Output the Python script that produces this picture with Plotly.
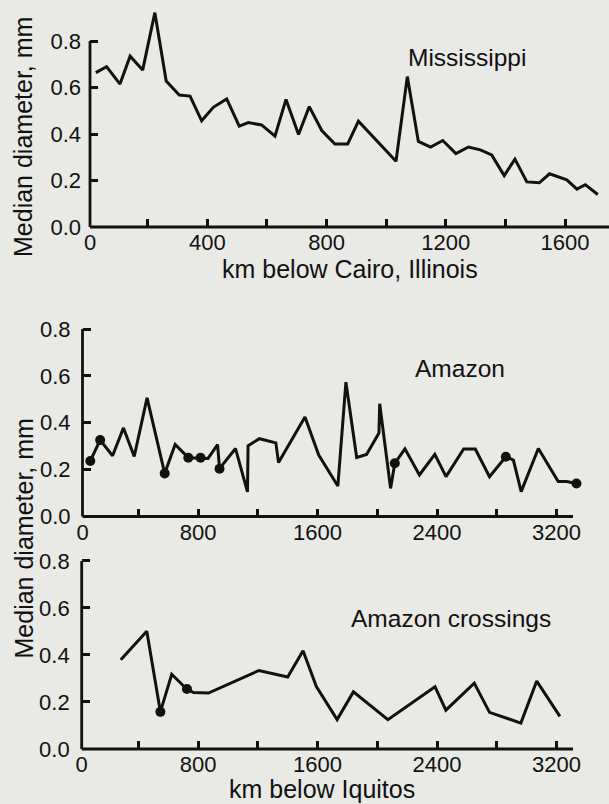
import plotly.graph_objects as go

# ---------------- data ----------------
miss_km = [26, 62, 107, 141, 183, 224, 262, 306, 342, 381, 420, 465, 507, 538, 582, 627, 664, 706,
           742, 784, 828, 871, 907, 1033, 1071, 1108, 1149, 1190, 1234, 1276, 1316, 1354, 1396,
           1432, 1472, 1514, 1548, 1606, 1640, 1668, 1710]
miss_d = [0.664, 0.69, 0.615, 0.735, 0.675, 0.922, 0.628, 0.568, 0.563, 0.457, 0.515, 0.551, 0.434,
          0.449, 0.439, 0.391, 0.549, 0.398, 0.518, 0.415, 0.357, 0.357, 0.455, 0.283, 0.647, 0.368,
          0.344, 0.372, 0.316, 0.344, 0.332, 0.31, 0.221, 0.292, 0.194, 0.19, 0.229, 0.203, 0.163,
          0.182, 0.14]

amz_km = [79, 145, 228, 301, 373, 459, 577, 647, 735, 817, 867, 931, 944, 1051, 1131, 1135, 1211,
          1321, 1339, 1516, 1608, 1736, 1790, 1862, 1928, 2011, 2016, 2089, 2117, 2185, 2282, 2385,
          2460, 2578, 2656, 2751, 2860, 2911, 2963, 3078, 3211, 3267, 3333]
amz_d = [0.237, 0.326, 0.259, 0.378, 0.256, 0.506, 0.184, 0.307, 0.251, 0.251, 0.248, 0.307, 0.204,
         0.29, 0.105, 0.302, 0.332, 0.314, 0.23, 0.425, 0.262, 0.13, 0.573, 0.252, 0.265, 0.356,
         0.481, 0.12, 0.227, 0.289, 0.177, 0.265, 0.17, 0.288, 0.288, 0.17, 0.255, 0.241, 0.106,
         0.29, 0.149, 0.149, 0.141]
amz_marked = [1, 1, 0, 0, 0, 0, 1, 0, 1, 1, 0, 0, 1, 0, 0, 0, 0, 0, 0, 0, 0, 0, 0, 0, 0, 0, 0, 0,
              1, 0, 0, 0, 0, 0, 0, 0, 1, 0, 0, 0, 0, 0, 1]

cross_km = [283, 457, 548, 624, 700, 726, 770, 870, 1208, 1400, 1503, 1592, 1731, 1840, 2071, 2386,
            2459, 2649, 2751, 2961, 3067, 3222]
cross_d = [0.38, 0.501, 0.158, 0.318, 0.27, 0.255, 0.24, 0.238, 0.334, 0.306, 0.418, 0.266, 0.125,
           0.243, 0.125, 0.265, 0.165, 0.28, 0.156, 0.11, 0.289, 0.139]
cross_marked = [0, 0, 1, 0, 0, 1, 0, 0, 0, 0, 0, 0, 0, 0, 0, 0, 0, 0, 0, 0, 0, 0]

y_ticks = [0.0, 0.2, 0.4, 0.6, 0.8]
y_ticktext = ["0.0", "0.2", "0.4", "0.6", "0.8"]
miss_xticks = [200, 400, 600, 800, 1000, 1200, 1400, 1600]
miss_xlabels = {400: "400", 800: "800", 1200: "1200", 1600: "1600"}
amz_xticks = [400, 800, 1200, 1600, 2000, 2400, 2800, 3200]
amz_xlabels = {800: "800", 1600: "1600", 2400: "2400", 3200: "3200"}

# ---------------- style ----------------
W, H = 609, 804
FONT = "Liberation Sans, Arial, Helvetica, sans-serif"
INK = "#111111"
BG = "#e9e9e6"
LW = 3


def py(p):
    return (H - p) / H


fig = go.Figure()

panels = [
    dict(ax="x", ay="y", xr=[6.4, 1747.6], xend=1747.6, yd=(227, 5), ytop=0.955, xl=90,
         ticks=miss_xticks, labels=miss_xlabels, stand=8),
    dict(ax="x2", ay="y2", xr=[26.8, 3550.9], xend=3310, yd=(516.5, 318), ytop=0.847, xl=82.5,
         ticks=amz_xticks, labels=amz_xlabels, stand=11),
    dict(ax="x3", ay="y3", xr=[21.4, 3550.8], xend=3310, yd=(749, 552), ytop=0.838, xl=81.7,
         ticks=amz_xticks, labels=amz_xlabels, stand=11),
]

series = [
    (miss_km, miss_d, None),
    (amz_km, amz_d, amz_marked),
    (cross_km, cross_d, cross_marked),
]

layout_axes = {}
shapes = []
for i, (p, (xs, ys, marks)) in enumerate(zip(panels, series)):
    n = "" if i == 0 else str(i + 1)
    fig.add_trace(go.Scatter(x=xs, y=ys, mode="lines", xaxis=p["ax"], yaxis=p["ay"],
                             line=dict(color=INK, width=LW), showlegend=False, hoverinfo="skip"))
    if marks is not None:
        mx = [x for x, m in zip(xs, marks) if m]
        my = [y for y, m in zip(ys, marks) if m]
        fig.add_trace(go.Scatter(x=mx, y=my, mode="markers", xaxis=p["ax"], yaxis=p["ay"],
                                 marker=dict(color=INK, size=10, line=dict(width=0)),
                                 cliponaxis=False, showlegend=False, hoverinfo="skip"))
    tv = [p["xr"][0]] + p["ticks"]
    tt = ["0"] + [p["labels"].get(t, "") for t in p["ticks"]]
    layout_axes["xaxis" + n] = dict(
        domain=[p["xl"] / W, 1], range=p["xr"], anchor=p["ay"], tickmode="array",
        tickvals=tv, ticktext=tt, ticks="inside", ticklen=8, tickwidth=2.5, tickcolor=INK,
        showline=False, showgrid=False, zeroline=False, automargin=False,
        tickfont=dict(family=FONT, size=22, color=INK))
    layout_axes["yaxis" + n] = dict(
        domain=[py(p["yd"][0]), py(p["yd"][1])], range=[0, p["ytop"]], anchor=p["ax"],
        tickmode="array", tickvals=y_ticks, ticktext=y_ticktext, ticks="inside", ticklen=8,
        tickwidth=2.5, tickcolor=INK, showline=False, showgrid=False, zeroline=False,
        automargin=False, ticklabelstandoff=p["stand"],
        tickfont=dict(family=FONT, size=22, color=INK))
    # axis lines: y axis runs 0 - 0.8 only, x axis stops at xend
    xd, yd = p["ax"] + " domain", p["ay"] + " domain"
    y_top_frac = 0.8 / p["ytop"]
    x_end_frac = (p["xend"] - p["xr"][0]) / (p["xr"][1] - p["xr"][0])
    shapes.append(dict(type="line", xref=xd, yref=yd, x0=0, x1=0, y0=0, y1=y_top_frac,
                       layer="above", line=dict(color=INK, width=2.8)))
    shapes.append(dict(type="line", xref=xd, yref=yd, x0=0, x1=x_end_frac, y0=0, y1=0,
                       layer="above", line=dict(color=INK, width=2.8)))

annotations = [
    dict(text="Mississippi", x=466.7 / W, y=py(58), size=24.5),
    dict(text="Amazon", x=460 / W, y=py(368.5), size=24.5),
    dict(text="Amazon crossings", x=450.5 / W, y=py(618), size=24.5),
    dict(text="km below Cairo, Illinois", x=349.5 / W, y=py(269), size=25),
    dict(text="km below Iquitos", x=322 / W, y=py(789), size=25),
    dict(text="Median diameter, mm", x=23 / W, y=py(137), size=25, angle=-90),
    dict(text="Median diameter, mm", x=23 / W, y=py(538.5), size=25, angle=-90),
]
ann = []
for a in annotations:
    ann.append(dict(text=a["text"], x=a["x"], y=a["y"], xref="paper", yref="paper",
                    xanchor="center", yanchor="middle", showarrow=False,
                    textangle=a.get("angle", 0),
                    font=dict(family=FONT, size=a["size"], color=INK)))

fig.update_layout(
    width=W, height=H, margin=dict(l=0, r=0, t=0, b=0, pad=0, autoexpand=False),
    paper_bgcolor=BG, plot_bgcolor=BG, showlegend=False,
    shapes=shapes, annotations=ann, **layout_axes)

fig.write_html("out.html", config={"displayModeBar": False},
               post_script="document.body.style.margin='0';document.body.style.overflow='hidden';"
                           "document.body.style.background='" + BG + "';")
